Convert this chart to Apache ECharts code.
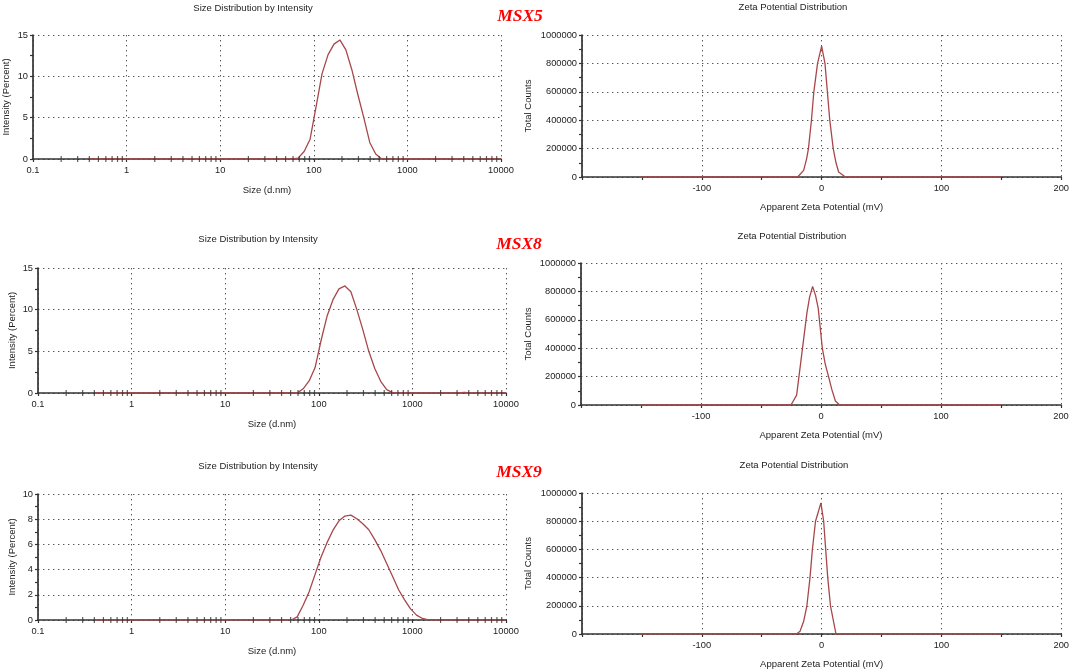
<!DOCTYPE html>
<html>
<head>
<meta charset="utf-8">
<script src="https://cdn.jsdelivr.net/npm/echarts@6/dist/echarts.min.js"></script>
<style>
  html, body { margin: 0; padding: 0; background: #fff; }
  #chart { width: 1072px; height: 672px; }
</style>
</head>
<body>
<div id="chart"></div>
<script>
// size bins (d.nm) shared by the three intensity curves
var sizeBins = [0.4, 50.75, 58.77, 68.06, 78.82, 91.28, 105.7, 122.4, 141.8, 164.2, 190.1,
  220.2, 255.0, 295.3, 342.0, 396.1, 458.7, 531.2, 615.1, 712.4, 825.0, 955.4, 1106, 1281,
  1484, 1718, 1990, 2305, 2669, 3091, 3580, 4145, 10000];

var msx5Size = [0, 0, 0, 0.1, 0.9, 2.4, 6.3, 10.3, 12.6, 13.9, 14.4, 13.2, 10.8, 7.8, 5.0, 2.0,
  0.6, 0, 0, 0, 0, 0, 0, 0, 0, 0, 0, 0, 0, 0, 0, 0, 0];
var msx8Size = [0, 0, 0, 0.5, 1.45, 3.05, 6.3, 9.2, 11.2, 12.5, 12.85, 12.15, 10.0, 7.6, 5.0, 2.95,
  1.4, 0.4, 0.05, 0, 0, 0, 0, 0, 0, 0, 0, 0, 0, 0, 0.08, 0, 0];
var msx9Size = [0, 0, 0.25, 1.17, 2.24, 3.62, 5.0, 6.14, 7.13, 7.87, 8.25, 8.32, 8.04, 7.64, 7.16,
  6.38, 5.51, 4.49, 3.45, 2.40, 1.6, 0.88, 0.39, 0.12, 0.01, 0, 0, 0, 0, 0, 0, 0, 0];

// zeta potential (mV) and total counts
var zeta5Mv = [-150, -20, -15, -12.5, -11, -8.5, -6.5, -3.4, 0, 2.8, 4.8, 6.8, 9.7, 12, 14.2, 19, 21, 150];
var zeta5Counts = [0, 0, 47000, 130000, 200000, 400000, 600000, 800000, 922000, 800000, 600000,
  400000, 200000, 100000, 35000, 5000, 0, 0];
var zeta8Mv = [-150, -25, -20.3, -16, -11.7, -9.5, -7, -4.5, -2.3, 1.1, 3.5, 6.3, 9, 12, 15.5, 150];
var zeta8Counts = [0, 0, 70000, 360000, 650000, 760000, 835000, 770000, 680000, 400000, 290000,
  200000, 110000, 28000, 0, 0];
var zeta9Mv = [-150, -21, -18, -15, -12.3, -9.7, -7.7, -5.1, -3, -0.6, 1.7, 3.4, 5.1, 7.4, 12, 150];
var zeta9Counts = [0, 0, 20000, 90000, 200000, 400000, 600000, 800000, 860000, 930000, 800000,
  600000, 400000, 200000, 0, 0];

// minor tick positions of the log size axis
var logMinorTicks = [0.2, 0.3, 0.4, 0.5, 0.6, 0.7, 0.8, 0.9, 2, 3, 4, 5, 6, 7, 8, 9,
  20, 30, 40, 50, 60, 70, 80, 90, 200, 300, 400, 500, 600, 700, 800, 900,
  2000, 3000, 4000, 5000, 6000, 7000, 8000, 9000];

var sampleNames = ['MSX5', 'MSX8', 'MSX9'];

var FONT = 'Liberation Sans';
var TXT = '#222';
var AXIS = '#333';
var CURVE = '#a8474a';

var grids = [
  { left: 33, top: 35, width: 468, height: 124 },
  { left: 582, top: 35, width: 480, height: 142 },
  { left: 38, top: 268, width: 468, height: 125 },
  { left: 581, top: 263, width: 480, height: 142 },
  { left: 38, top: 494, width: 468, height: 126 },
  { left: 582, top: 493, width: 481, height: 141 }
];

var gridDots = { show: true, lineStyle: { color: '#555', width: 1, type: [1.4, 3.6] } };

function nameStyle() {
  return { fontFamily: FONT, fontSize: 9.5, color: TXT };
}

function labelStyle(margin, fmt) {
  return { fontFamily: FONT, fontSize: 9.3, color: TXT, margin: margin, formatter: fmt };
}

function sizeXAxis(i) {
  return {
    gridIndex: i, type: 'log', logBase: 10, min: 0.1, max: 10000, splitNumber: 5,
    name: 'Size (d.nm)', nameLocation: 'middle', nameGap: 26, nameTextStyle: nameStyle(),
    axisLine: { onZero: false, lineStyle: { color: AXIS, width: 1.7 } },
    axisTick: { show: true, length: 3, lineStyle: { color: AXIS, width: 1.2 } },
    axisLabel: labelStyle(7, function (v) { return String(+Number(v).toPrecision(6)); }),
    splitLine: gridDots
  };
}

function zetaXAxis(i) {
  return {
    gridIndex: i, type: 'value', min: -200, max: 200, interval: 100,
    name: 'Apparent Zeta Potential (mV)', nameLocation: 'middle', nameGap: 25, nameTextStyle: nameStyle(),
    axisLine: { onZero: false, lineStyle: { color: AXIS, width: 1.7 } },
    axisTick: { show: true, length: 3, lineStyle: { color: AXIS, width: 1.2 } },
    minorTick: { show: true, splitNumber: 2, length: 3, lineStyle: { color: AXIS, width: 1.2 } },
    axisLabel: labelStyle(7, function (v) { return v === -200 ? '' : String(v); }),
    splitLine: gridDots
  };
}

function yAxis(i, name, max, interval, gap) {
  return {
    gridIndex: i, type: 'value', min: 0, max: max, interval: interval,
    name: name, nameLocation: 'middle', nameRotate: 90, nameGap: gap, nameTextStyle: nameStyle(),
    axisLine: { show: true, onZero: false, lineStyle: { color: AXIS, width: 1.7 } },
    axisTick: { show: true, length: 3, lineStyle: { color: AXIS, width: 1.2 } },
    minorTick: { show: true, splitNumber: 2, length: 3, lineStyle: { color: AXIS, width: 1.2 } },
    axisLabel: labelStyle(5, function (v) { return String(v); }),
    splitLine: gridDots
  };
}

function curve(i, xs, ys) {
  return {
    type: 'line', xAxisIndex: i, yAxisIndex: i, showSymbol: false, symbol: 'none',
    silent: true, z: 3, animation: false,
    lineStyle: { color: CURVE, width: 1.3 },
    data: xs.map(function (x, k) { return [x, ys[k]]; })
  };
}

function logTicks(i) {
  return {
    type: 'scatter', xAxisIndex: i, yAxisIndex: i, silent: true, clip: false, z: 4,
    animation: false, symbol: 'rect', symbolSize: [1.2, 6],
    itemStyle: { color: AXIS },
    data: logMinorTicks.map(function (t) { return [t, 0]; })
  };
}

function txt(x, y, text, style) {
  return {
    type: 'text', x: x, y: y, silent: true,
    style: Object.assign({ text: text, align: 'center', verticalAlign: 'middle',
      fontFamily: FONT, fontSize: 9.5, fill: TXT }, style || {})
  };
}

var tagStyle = { fontFamily: 'Liberation Serif', fontSize: 17.5, fontWeight: 'bold',
  fontStyle: 'italic', fill: '#ff0000' };

var option = {
  backgroundColor: '#fff',
  animation: false,
  grid: grids,
  xAxis: [sizeXAxis(0), zetaXAxis(1), sizeXAxis(2), zetaXAxis(3), sizeXAxis(4), zetaXAxis(5)],
  yAxis: [
    yAxis(0, 'Intensity (Percent)', 15, 5, 22),
    yAxis(1, 'Total Counts', 1000000, 200000, 49),
    yAxis(2, 'Intensity (Percent)', 15, 5, 21),
    yAxis(3, 'Total Counts', 1000000, 200000, 48),
    yAxis(4, 'Intensity (Percent)', 10, 2, 21),
    yAxis(5, 'Total Counts', 1000000, 200000, 49)
  ],
  series: [
    curve(0, sizeBins, msx5Size), logTicks(0),
    curve(1, zeta5Mv, zeta5Counts),
    curve(2, sizeBins, msx8Size), logTicks(2),
    curve(3, zeta8Mv, zeta8Counts),
    curve(4, sizeBins, msx9Size), logTicks(4),
    curve(5, zeta9Mv, zeta9Counts)
  ],
  graphic: [
    txt(253, 8, 'Size Distribution by Intensity'),
    txt(793, 7, 'Zeta Potential Distribution'),
    txt(258, 239, 'Size Distribution by Intensity'),
    txt(792, 236, 'Zeta Potential Distribution'),
    txt(258, 466, 'Size Distribution by Intensity'),
    txt(794, 465, 'Zeta Potential Distribution'),
    txt(520, 16, sampleNames[0], tagStyle),
    txt(519, 244, sampleNames[1], tagStyle),
    txt(519, 472, sampleNames[2], tagStyle)
  ]
};

var chart = echarts.init(document.getElementById('chart'), null, { renderer: 'canvas' });
chart.setOption(option);
</script>
</body>
</html>
